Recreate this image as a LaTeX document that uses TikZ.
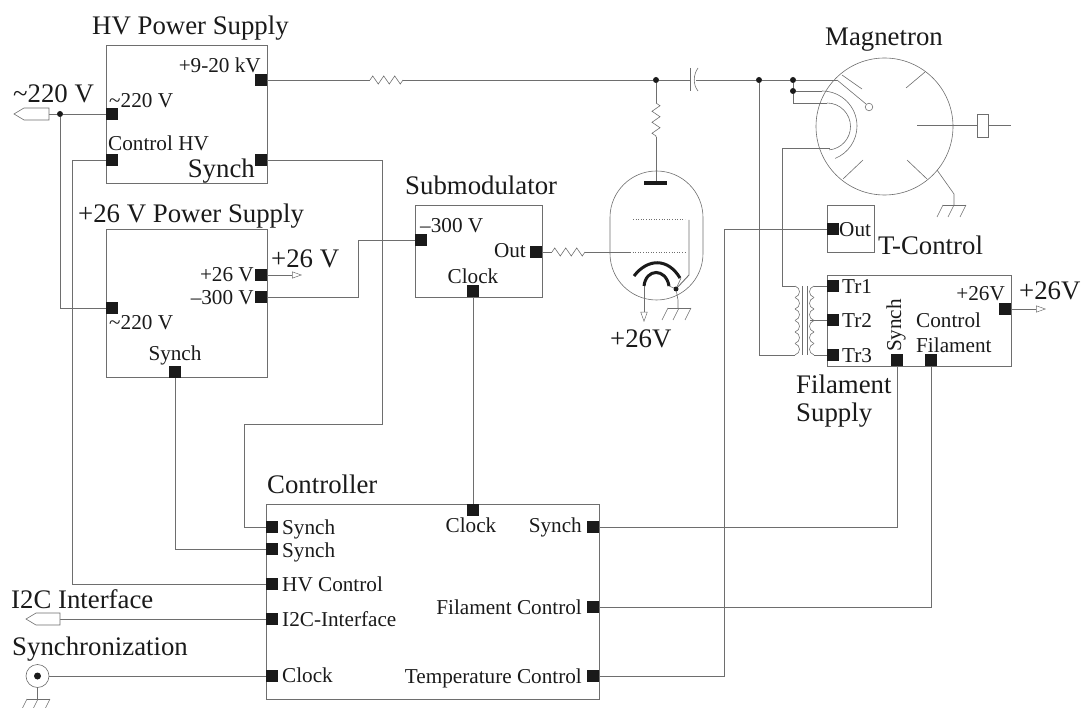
\documentclass[tikz,border=0pt]{standalone}
\usepackage{fontspec}
\setmainfont{Liberation Serif}
\usetikzlibrary{arrows.meta, positioning, calc, decorations.pathmorphing}
\definecolor{wirecol}{HTML}{6E6E6E}
\definecolor{portcol}{HTML}{1A1A1A}

\begin{document}
\begin{tikzpicture}[
    x=1pt, y=-1pt,
    box/.style={rectangle, draw=wirecol, line width=0.9pt, inner sep=0pt, outer sep=0pt},
    port/.style={rectangle, fill=portcol, minimum size=12pt, inner sep=0pt, outer sep=0pt},
    dot/.style={circle, fill=portcol, minimum size=6pt, inner sep=0pt, outer sep=0pt},
    wire/.style={draw=wirecol, line width=0.9pt},
    thinw/.style={draw=wirecol, line width=0.6pt},
    res/.style={thinw, decorate, decoration={zigzag, segment length=11pt, amplitude=4pt}},
    outw/.style={wire, -{Triangle[open, length=10pt, width=7pt, line width=0.5pt]}},
    biglbl/.style={font=\fontsize{26.8}{27}\selectfont, inner sep=0pt, text height=18pt, text depth=6pt, text=portcol, yshift=-3.5pt},
    lbl/.style={font=\fontsize{21.2}{22}\selectfont, inner sep=0pt, text height=14pt, text depth=4pt, text=portcol, yshift=-2.5pt},
    gnd/.pic={
      \draw[thinw] (-11,0) -- (12,0);
      \foreach \hx in {-11,0,12} \draw[thinw] (\hx,0) -- ++(-6,12);
    }
  ]
  \useasboundingbox (0,0) rectangle (1082,708);

  % blocks
  \node[box, minimum width=161pt, minimum height=138pt] (hv)    at (186.5,114) {};
  \node[box, minimum width=161pt, minimum height=148pt] (ps)    at (186.5,303) {};
  \node[box, minimum width=127pt, minimum height=92pt]  (sub)   at (478.5,251) {};
  \node[box, minimum width=333pt, minimum height=195pt] (ctl)   at (432.5,601.5) {};
  \node[box, minimum width=47pt,  minimum height=47pt]  (tctl)  at (850.5,228.5) {};
  \node[box, minimum width=184pt, minimum height=91pt]  (fil)   at (919,320.5) {};

  % ports
  \node[port] (hvkv)   at (261,80)  {};
  \node[port] (hvac)   at (112,114) {};
  \node[port] (hvctl)  at (112,160) {};
  \node[port] (hvsyn)  at (261,160) {};
  \node[port] (psp)    at (261,275) {};
  \node[port] (psn)    at (261,297) {};
  \node[port] (psac)   at (112,308) {};
  \node[port] (pssyn)  at (175,372) {};
  \node[port] (subn)   at (421,240) {};
  \node[port] (subout) at (536,252) {};
  \node[port] (subclk) at (473,291) {};
  \node[port] (ctlsa)  at (272,527) {};
  \node[port] (ctlsb)  at (272,549) {};
  \node[port] (ctlhv)  at (272,584) {};
  \node[port] (ctlic)  at (272,619) {};
  \node[port] (ctlck)  at (272,676) {};
  \node[port] (ctlclk) at (473,510) {};
  \node[port] (ctlsr)  at (593,527) {};
  \node[port] (ctlfil) at (593,607) {};
  \node[port] (ctltmp) at (593,676) {};
  \node[port] (tout)   at (833,229) {};
  \node[port] (trone)  at (833,286) {};
  \node[port] (trtwo)  at (833,320) {};
  \node[port] (trthr)  at (833,355) {};
  \node[port] (filsyn) at (897,360) {};
  \node[port] (filctl) at (931,360) {};
  \node[port] (filp)   at (1005,309) {};

  % junctions
  \node[dot] (jac)  at (60,114)  {};
  \node[dot] (jres) at (656,80)  {};
  \node[dot] (jpri) at (759,80)  {};
  \node[dot] (jfa)  at (793,80)  {};
  \node[dot] (jfb)  at (793,91)  {};
  \node[dot, minimum size=5pt] (jcat) at (676,289) {};

  % free ends of the wires
  \coordinate (acflag)  at (49,114);
  \coordinate (icflag)  at (60,619);
  \coordinate (coaxr)   at (49,676);
  \coordinate (psptip)  at (302,275);
  \coordinate (filtip)  at (1046,309);
  \coordinate (rhva)    at (370,80);
  \coordinate (rhvb)    at (403,80);
  \coordinate (capa)    at (690,80);
  \coordinate (capb)    at (696,80);
  \coordinate (rana)    at (656,103);
  \coordinate (ranb)    at (656,137);
  \coordinate (plate)   at (656,181);
  \coordinate (rgra)    at (552,252);
  \coordinate (rgrb)    at (585,252);
  \coordinate (grid)    at (630,252);
  \coordinate (magin)   at (837,80);
  \coordinate (htra)    at (822,91);
  \coordinate (htrb)    at (827,103);
  \coordinate (htrc)    at (830,148);
  \coordinate (pria)    at (795,286);
  \coordinate (prib)    at (795,355);
  \coordinate (seca)    at (814,286);
  \coordinate (secb)    at (810,320);
  \coordinate (secc)    at (814,355);

  % wires
  \draw[wire] (acflag) -- (jac) -- (hvac.west);
  \draw[wire] (jac) |- (psac.west);
  \draw[wire] (hvctl.west) -- (72,160) |- (ctlhv.west);
  \draw[wire] (hvsyn.east) -| (382,424) -- (244,424) |- (ctlsa.west);
  \draw[wire] (pssyn.south) |- (ctlsb.west);
  \draw[wire] (psn.east) -| (358,240) -- (subn.west);
  \draw[outw] (psp.east) -- (psptip);
  \draw[wire] (subclk.south) -- (ctlclk.north);
  \draw[wire] (hvkv.east) -- (rhva);
  \draw[res]  (rhva) -- (rhvb);
  \draw[wire] (rhvb) -- (jres) -- (capa);
  \draw[wire] (capb) -- (jpri) -- (jfa) -- (magin);
  \draw[wire] (jres) -- (rana);
  \draw[res]  (rana) -- (ranb);
  \draw[wire] (ranb) -- (plate);
  \draw[wire] (subout.east) -- (rgra);
  \draw[res]  (rgra) -- (rgrb);
  \draw[wire] (rgrb) -- (grid);
  \draw[wire] (jfa) -- (jfb) -- (htra);
  \draw[wire] (jfb) |- (htrb);
  \draw[wire] (htrc) -| (782,286) -- (pria);
  \draw[wire] (jpri) |- (prib);
  \draw[wire] (seca) -- (trone.west);
  \draw[wire] (secb) -- (trtwo.west);
  \draw[wire] (secc) -- (trthr.west);
  \draw[wire] (ctlic.west) -- (icflag);
  \draw[wire] (ctlck.west) -- (coaxr);
  \draw[wire] (ctlsr.east) -| (filsyn.south);
  \draw[wire] (ctlfil.east) -| (filctl.south);
  \draw[wire] (ctltmp.east) -- (724,676) |- (tout.west);
  \draw[outw] (filp.east) -- (filtip);

  % input flags
  \draw[thinw, fill=white] (acflag) -- ++(0,-6) -- ++(-25,0) -- (14,114) -- (24,120) -- (49,120) -- cycle;
  \draw[thinw, fill=white] (icflag) -- ++(0,-6) -- ++(-24,0) -- (26,619) -- (36,625) -- (60,625) -- cycle;

  % coax socket
  \node[circle, draw=wirecol, line width=0.6pt, fill=white, minimum size=23pt, inner sep=0pt] (coax) at (37.5,676) {};
  \node[dot, minimum size=7pt] (coaxdot) at (37.5,676) {};
  \draw[thinw] (coax.south) -- (37.5,699);
  \pic at (38,699) {gnd};

  % capacitor
  \draw[thinw] (690,68) -- (690,91);
  \draw[thinw] (698,68) .. controls (693,75) and (693,85) .. (698,91);

  % tube
  \draw[thinw] (610,217.5) arc[start angle=180, end angle=0, radius=46.5pt]
    -- (703,253.5) arc[start angle=0, end angle=-180, radius=46.5pt] -- cycle;
  \draw[line width=4pt, portcol] (644,183) -- (667,183);
  \draw[thinw, dotted] (633,219.5) -- (685,219.5);
  \draw[thinw, dotted] (630,252) -- (687,252);
  \draw[wire] (689,220) -- (689,275) -- (jcat);
  \draw[line width=3pt, portcol] (634,276) .. controls (648,258) and (668,258) .. (680,278);
  \draw[line width=3pt, portcol] (644,286) .. controls (646,268) and (666,268) .. (669,286);
  \draw[thinw] (669,286) -- (jcat) -- (681,278);
  \draw[thinw] (jcat) -- (678,300) -- (678,308);
  \pic at (679,308) {gnd};
  \draw[outw] (644,286) -- (644,322);

  % magnetron
  \draw[thinw] (884.5,126.5) circle[radius=68.5pt];
  \draw[thinw] (842,75) -- (862,89);
  \draw[thinw] (925,72) -- (906,88);
  \draw[thinw] (843,179) -- (863,160);
  \draw[thinw] (927,179) -- (907,160);
  \draw[thinw] (magin) -- (866,104);
  \draw[thinw, fill=white] (869,107) circle[radius=3.8pt];
  \draw[thinw] (htra) arc[start angle=90, end angle=-68, radius=35pt];
  \draw[thinw] (htrb) arc[start angle=90, end angle=-85, radius=23.5pt];
  \draw[thinw] (917,125) -- (1011,125);
  \draw[thinw, fill=white] (977,114) rectangle (988,137);
  \draw[thinw] (937,170) -- (954,194) -- (954,205);
  \pic at (954,205) {gnd};

  % transformer
  \draw[thinw] (802,286) -- (802,355);
  \draw[thinw] (807,286) -- (807,355);
  \foreach \ty in {286,297.5,309,320.5,332,343.5} {
    \draw[thinw] (795,\ty) .. controls (801,\ty+2) and (801,\ty+9.5) .. (795,\ty+11.5);
    \draw[thinw] (814,\ty) .. controls (808,\ty+2) and (808,\ty+9.5) .. (814,\ty+11.5);
  }

  % labels
  \node[biglbl, anchor=west] (lhv)   at (92,25)   {HV Power Supply};
  \node[biglbl, anchor=west] (lac)   at (13,93)   {\textasciitilde220 V};
  \node[lbl, anchor=east]    (lkv)   at (261,65)  {+9-20 kV};
  \node[lbl, anchor=west]    (lhvac) at (109,100) {\textasciitilde220 V};
  \node[lbl, anchor=west]    (lhvc)  at (108,143) {Control HV};
  \node[biglbl, anchor=east] (lhvs)  at (255,168) {Synch};
  \node[biglbl, anchor=west] (lps)   at (78,213)  {+26 V Power Supply};
  \node[lbl, anchor=east]    (lpsp)  at (254,274) {+26 V};
  \node[lbl, anchor=east]    (lpsn)  at (254,297) {--300 V};
  \node[lbl, anchor=west]    (lpsac) at (109,322) {\textasciitilde220 V};
  \node[lbl]                 (lpss)  at (175,353) {Synch};
  \node[biglbl, anchor=west] (lpv)   at (271,258) {+26 V};
  \node[biglbl, anchor=west] (lsub)  at (405,185) {Submodulator};
  \node[lbl, anchor=west]    (lsubn) at (420,225) {--300 V};
  \node[lbl, anchor=east]    (lsubo) at (526,250) {Out};
  \node[lbl]                 (lsubc) at (473,276) {Clock};
  \node[biglbl, anchor=west] (lmag)  at (825,36)  {Magnetron};
  \node[biglbl, anchor=west] (ltc)   at (878,245) {T-Control};
  \node[lbl, anchor=west]    (ltco)  at (839,229) {Out};
  \node[lbl, anchor=west]    (ltra)  at (842,286) {Tr1};
  \node[lbl, anchor=west]    (ltrb)  at (842,320) {Tr2};
  \node[lbl, anchor=west]    (ltrc)  at (842,355) {Tr3};
  \node[lbl, rotate=90]      (lfils) at (896,323) {Synch};
  \node[lbl, anchor=west]    (lfilc) at (916,320) {Control};
  \node[lbl, anchor=west]    (lfilf) at (916,345) {Filament};
  \node[lbl, anchor=east]    (lfilp) at (1005,293) {+26V};
  \node[biglbl, anchor=west] (lfilv) at (1019,290) {+26V};
  \node[biglbl, anchor=west] (lfa)   at (796,384) {Filament};
  \node[biglbl, anchor=west] (lfb)   at (796,412) {Supply};
  \node[biglbl, anchor=west] (ltube) at (610,338) {+26V};
  \node[biglbl, anchor=west] (lctl)  at (267,484) {Controller};
  \node[lbl, anchor=west]    (lcsa)  at (282,527) {Synch};
  \node[lbl, anchor=west]    (lcsb)  at (282,550) {Synch};
  \node[lbl, anchor=west]    (lchv)  at (282,584) {HV Control};
  \node[lbl, anchor=west]    (lcic)  at (282,619) {I2C-Interface};
  \node[lbl, anchor=west]    (lcck)  at (282,675) {Clock};
  \node[lbl]                 (lcclk) at (471,525) {Clock};
  \node[lbl, anchor=east]    (lcsr)  at (582,525) {Synch};
  \node[lbl, anchor=east]    (lcfil) at (582,607) {Filament Control};
  \node[lbl, anchor=east]    (lctmp) at (582,676) {Temperature Control};
  \node[biglbl, anchor=west] (lic)   at (11,599)  {I2C Interface};
  \node[biglbl, anchor=west] (lsyn)  at (12,646)  {Synchronization};
\end{tikzpicture}
\end{document}
